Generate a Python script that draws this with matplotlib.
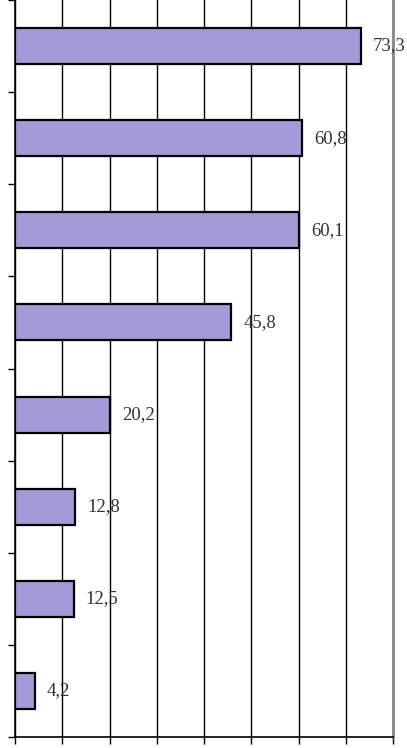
import matplotlib
matplotlib.use('Agg')
import matplotlib.pyplot as plt
import numpy as np

# values, top to bottom
values = [73.3, 60.8, 60.1, 45.8, 20.2, 12.8, 12.5, 4.2]
value_labels = ['73,3', '60,8', '60,1', '45,8', '20,2', '12,8', '12,5', '4,2']
xticks = np.arange(0, 81, 10)

bar_color = '#A29BD8'

fig = plt.figure(figsize=(4.07, 7.48), dpi=100)
ax = fig.add_axes([15/407, 11/748, (393-15)/407, 737/748])

ypos = np.arange(len(values))
ax.barh(ypos, values, height=0.39, color=bar_color, edgecolor='black',
        linewidth=1.6, zorder=3)

for y, v, lab in zip(ypos, values, value_labels):
    ax.text(v + 2.5, y, lab, va='center', ha='left', fontsize=13.5,
            family='Liberation Serif', color='#333333')

ax.set_xlim(0, 80)
ax.set_ylim(len(values) - 0.5, -0.5)
ax.set_xticks(xticks)
ax.set_xticklabels([])
ax.set_yticks(np.arange(len(values) + 1) - 0.5)
ax.set_yticklabels([])
ax.tick_params(axis='both', direction='out', length=5, width=1, color='black')
ax.xaxis.grid(True, color='black', linewidth=1)
ax.set_axisbelow(True)

ax.spines['left'].set_color('black')
ax.spines['left'].set_linewidth(1.2)
ax.spines['bottom'].set_color('black')
ax.spines['bottom'].set_linewidth(1.2)
ax.spines['right'].set_color('#888888')
ax.spines['right'].set_linewidth(2)
ax.spines['top'].set_visible(False)

fig.savefig('out.png', dpi=100)
